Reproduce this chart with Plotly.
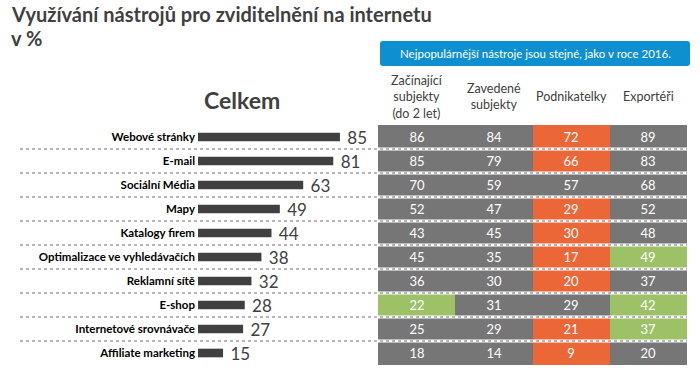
import plotly.graph_objects as go

W, H = 700, 374

categories = ["Webové stránky", "E-mail", "Sociální Média", "Mapy", "Katalogy firem",
              "Optimalizace ve vyhledávačích", "Reklamní sítě", "E-shop",
              "Internetové srovnávače", "Affiliate marketing"]
celkem = [85, 81, 63, 49, 44, 38, 32, 28, 27, 15]

groups = ["Začínající<br>subjekty<br>(do 2 let)", "Zavedené<br>subjekty", "Podnikatelky", "Exportéři"]
zacinajici = [86, 85, 70, 52, 43, 45, 36, 22, 25, 18]
zavedene = [84, 79, 59, 47, 45, 35, 30, 31, 29, 14]
podnikatelky = [72, 66, 57, 29, 30, 17, 20, 29, 21, 9]
exporteri = [89, 83, 68, 52, 48, 49, 37, 42, 37, 20]

# highlight marks per group: "" = normal, "o" = orange, "g" = green
hl_zacinajici = ["", "", "", "", "", "", "", "g", "", ""]
hl_zavedene = ["", "", "", "", "", "", "", "", "", ""]
hl_podnikatelky = ["o", "o", "", "o", "o", "o", "o", "", "o", "o"]
hl_exporteri = ["", "", "", "", "", "g", "", "g", "g", ""]

title_l1 = "Využívání nástrojů pro zviditelnění na internetu"
title_l2 = "v %"
note = "Nejpopulárnější nástroje jsou stejné, jako v roce 2016."
total_label = "Celkem"

GRAY = "#767676"
ORANGE = "#EC6737"
GREEN = "#9DC167"
DARK = "#404040"
FONT = "Lato"

def px_x(p):
    return p / W

def px_y(p):
    return 1 - p / H

cols = [zacinajici, zavedene, podnikatelky, exporteri]
hls = [hl_zacinajici, hl_zavedene, hl_podnikatelky, hl_exporteri]
code = {"": 0, "o": 1, "g": 2}
z = [[code[hls[c][r]] for c in range(4)] for r in range(len(categories))]
txt = [[str(cols[c][r]) for c in range(4)] for r in range(len(categories))]

fig = go.Figure()
fig.add_trace(go.Bar(
    x=celkem, y=categories, orientation="h", xaxis="x", yaxis="y",
    marker=dict(color=DARK, line=dict(width=0)), width=0.36,
    text=[f" {v}" for v in celkem], textposition="outside", cliponaxis=False,
    constraintext="none",
    textfont=dict(family=FONT, size=17, color=DARK), hoverinfo="skip",
))
fig.add_trace(go.Heatmap(
    z=z, x=list(range(4)), y=categories, xaxis="x2", yaxis="y",
    zmin=0, zmax=2, showscale=False,
    colorscale=[[0, GRAY], [0.25, GRAY], [0.25, ORANGE], [0.75, ORANGE], [0.75, GREEN], [1, GREEN]],
    text=txt, texttemplate="%{text}",
    textfont=dict(family=FONT, size=13, color="white"), hoverinfo="skip",
))

ydom = [px_y(365), px_y(125)]
shapes = []
for i in range(len(categories) - 1):
    yv = i + 0.5
    shapes.append(dict(type="line", xref="paper", yref="y", x0=px_x(378), x1=px_x(687),
                       y0=yv, y1=yv, line=dict(color="white", width=3)))
    shapes.append(dict(type="line", xref="paper", yref="y", x0=px_x(20), x1=px_x(687),
                       y0=yv, y1=yv, line=dict(color="#A0A0A0", width=1.6, dash="dot")))

# blue rounded box
x0, x1, y0, y1, r = px_x(380), px_x(690), px_y(41), px_y(66), 3
rx, ry = r / W, r / H
path = (f"M {x0+rx},{y0} L {x1-rx},{y0} Q {x1},{y0} {x1},{y0-ry} L {x1},{y1+ry} "
        f"Q {x1},{y1} {x1-rx},{y1} L {x0+rx},{y1} Q {x0},{y1} {x0},{y1+ry} "
        f"L {x0},{y0-ry} Q {x0},{y0} {x0+rx},{y0} Z")
shapes.append(dict(type="path", xref="paper", yref="paper", path=path,
                   fillcolor="#0E8FD0", line=dict(width=0)))

annotations = [
    dict(text=title_l1, xref="paper", yref="paper", x=px_x(9), y=px_y(14),
         xanchor="left", yanchor="middle", showarrow=False,
         font=dict(family=FONT, size=20, color=DARK, weight="bold")),
    dict(text=title_l2, xref="paper", yref="paper", x=px_x(9), y=px_y(38.5),
         xanchor="left", yanchor="middle", showarrow=False,
         font=dict(family=FONT, size=20, color=DARK, weight="bold")),
    dict(text=note, xref="paper", yref="paper", x=px_x(535), y=px_y(53.5),
         xanchor="center", yanchor="middle",
         showarrow=False, font=dict(family=FONT, size=11.5, color="white")),
    dict(text=total_label, xref="paper", yref="paper", x=px_x(242), y=px_y(100),
         xanchor="center", yanchor="middle",
         showarrow=False, font=dict(family=FONT, size=23, color=DARK, weight="bold")),
]
for i, g in enumerate(groups):
    annotations.append(dict(text=g, xref="x2", yref="paper", x=i, y=px_y(97),
                            xanchor="center", yanchor="middle", showarrow=False,
                            font=dict(family=FONT, size=12.5, color=DARK)))

fig.update_layout(
    width=W, height=H, margin=dict(l=0, r=0, t=0, b=0, pad=0), autosize=False,
    paper_bgcolor="white", plot_bgcolor="white", showlegend=False,
    xaxis=dict(domain=[px_x(198), px_x(365)], range=[0, 100], visible=False,
               fixedrange=True, automargin=False),
    xaxis2=dict(domain=[px_x(378), px_x(687)], range=[-0.5, 3.5], visible=False,
                anchor="y", fixedrange=True, automargin=False),
    yaxis=dict(domain=ydom, range=[9.5, -0.5], type="category", anchor="x",
               showgrid=False, zeroline=False, showline=False, ticks="",
               tickfont=dict(family=FONT, size=11.5, color="black", weight="bold"),
               ticklabelstandoff=2, fixedrange=True, automargin=False),
    shapes=shapes, annotations=annotations,
)

fig.write_html("out.html", config={"responsive": False, "displayModeBar": False},
               post_script="document.body.style.margin='0';")
